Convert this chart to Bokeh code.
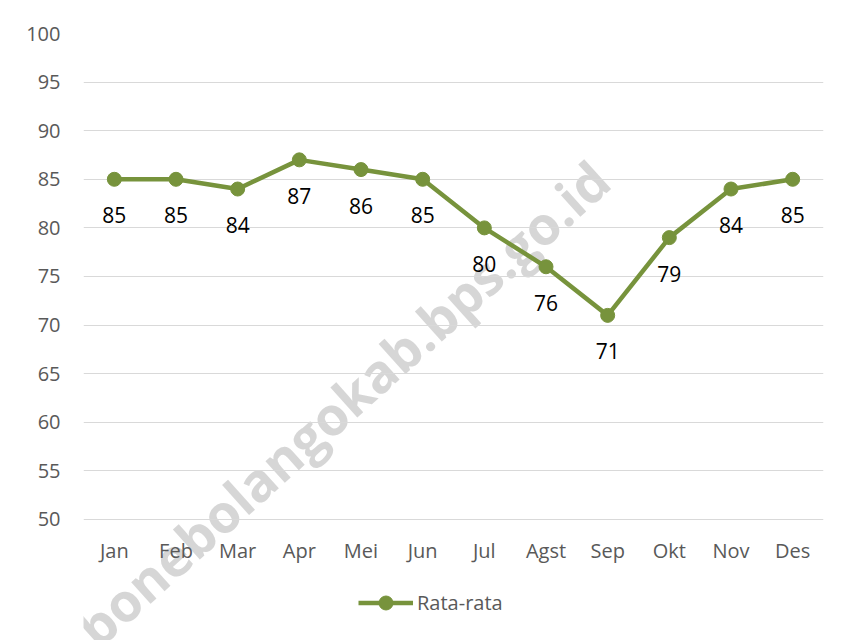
from bokeh.plotting import figure
from bokeh.models import ColumnDataSource, FixedTicker, Legend, LegendItem, Label, Range1d
from bokeh.embed import file_html
from bokeh.resources import INLINE
from bokeh.core.properties import value

months = ["Jan", "Feb", "Mar", "Apr", "Mei", "Jun", "Jul", "Agst", "Sep", "Okt", "Nov", "Des"]
rata_rata = [85, 85, 84, 87, 86, 85, 80, 76, 71, 79, 84, 85]
y_ticks = [50, 55, 60, 65, 70, 75, 80, 85, 90, 95, 100]
watermark = "bonebolangokab.bps.go.id"

GREEN = "#77933C"
FONT = "Open Sans"

src = ColumnDataSource(dict(x=months, y=rata_rata, lbl=[str(v) for v in rata_rata]))

# frame extends down to the bottom of the canvas so the watermark and legend are not clipped
p = figure(x_range=months, y_range=Range1d(37.551, 100), output_backend="svg", toolbar_location=None,
           frame_width=740, frame_height=607,
           min_border_left=83, min_border_right=28, min_border_top=33, min_border_bottom=0)
p.outline_line_color = None
p.background_fill_color = "white"
p.border_fill_color = "white"

p.xgrid.grid_line_color = None
p.ygrid.grid_line_color = "#d9d9d9"
p.ygrid.grid_line_width = 1
p.ygrid.ticker = FixedTicker(ticks=y_ticks)
p.yaxis.ticker = FixedTicker(ticks=y_ticks)
p.xaxis.fixed_location = 50

for ax in (p.xaxis[0], p.yaxis[0]):
    ax.axis_line_color = None
    ax.major_tick_line_color = None
    ax.minor_tick_line_color = None
    ax.major_tick_out = 0
    ax.major_tick_in = 0
    ax.major_label_text_font = FONT
    ax.major_label_text_font_size = "20px"
    ax.major_label_text_color = "#595959"
p.yaxis.major_label_standoff = 23
p.xaxis.major_label_standoff = 18

wm = Label(x=4.20, y=61.95, text=watermark, angle=42, angle_units="deg",
           text_font=FONT, text_font_size="53px", text_font_style="bold",
           text_color="#d2d2d2", text_alpha=0.9, text_align="center", text_baseline="middle",
           level="image")
p.add_layout(wm)

line_r = p.line("x", "y", source=src, line_color=GREEN, line_width=4.5)
pts_r = p.scatter("x", "y", source=src, size=14, fill_color=GREEN, line_color=GREEN)
p.text("x", "y", text="lbl", source=src, text_font=value(FONT), text_font_size="21px",
       text_color="black", text_align="center", text_baseline="middle", y_offset=36)

legend = Legend(items=[LegendItem(label="Rata-rata", renderers=[line_r, pts_r])],
                location=(275, 20), orientation="horizontal",
                padding=0, margin=0, border_line_alpha=0, background_fill_alpha=0,
                glyph_width=55, glyph_height=35, label_standoff=4,
                label_text_font=FONT, label_text_font_size="20px", label_text_color="#595959")
p.add_layout(legend, "center")

open("out.html", "w").write(file_html(p, INLINE))
